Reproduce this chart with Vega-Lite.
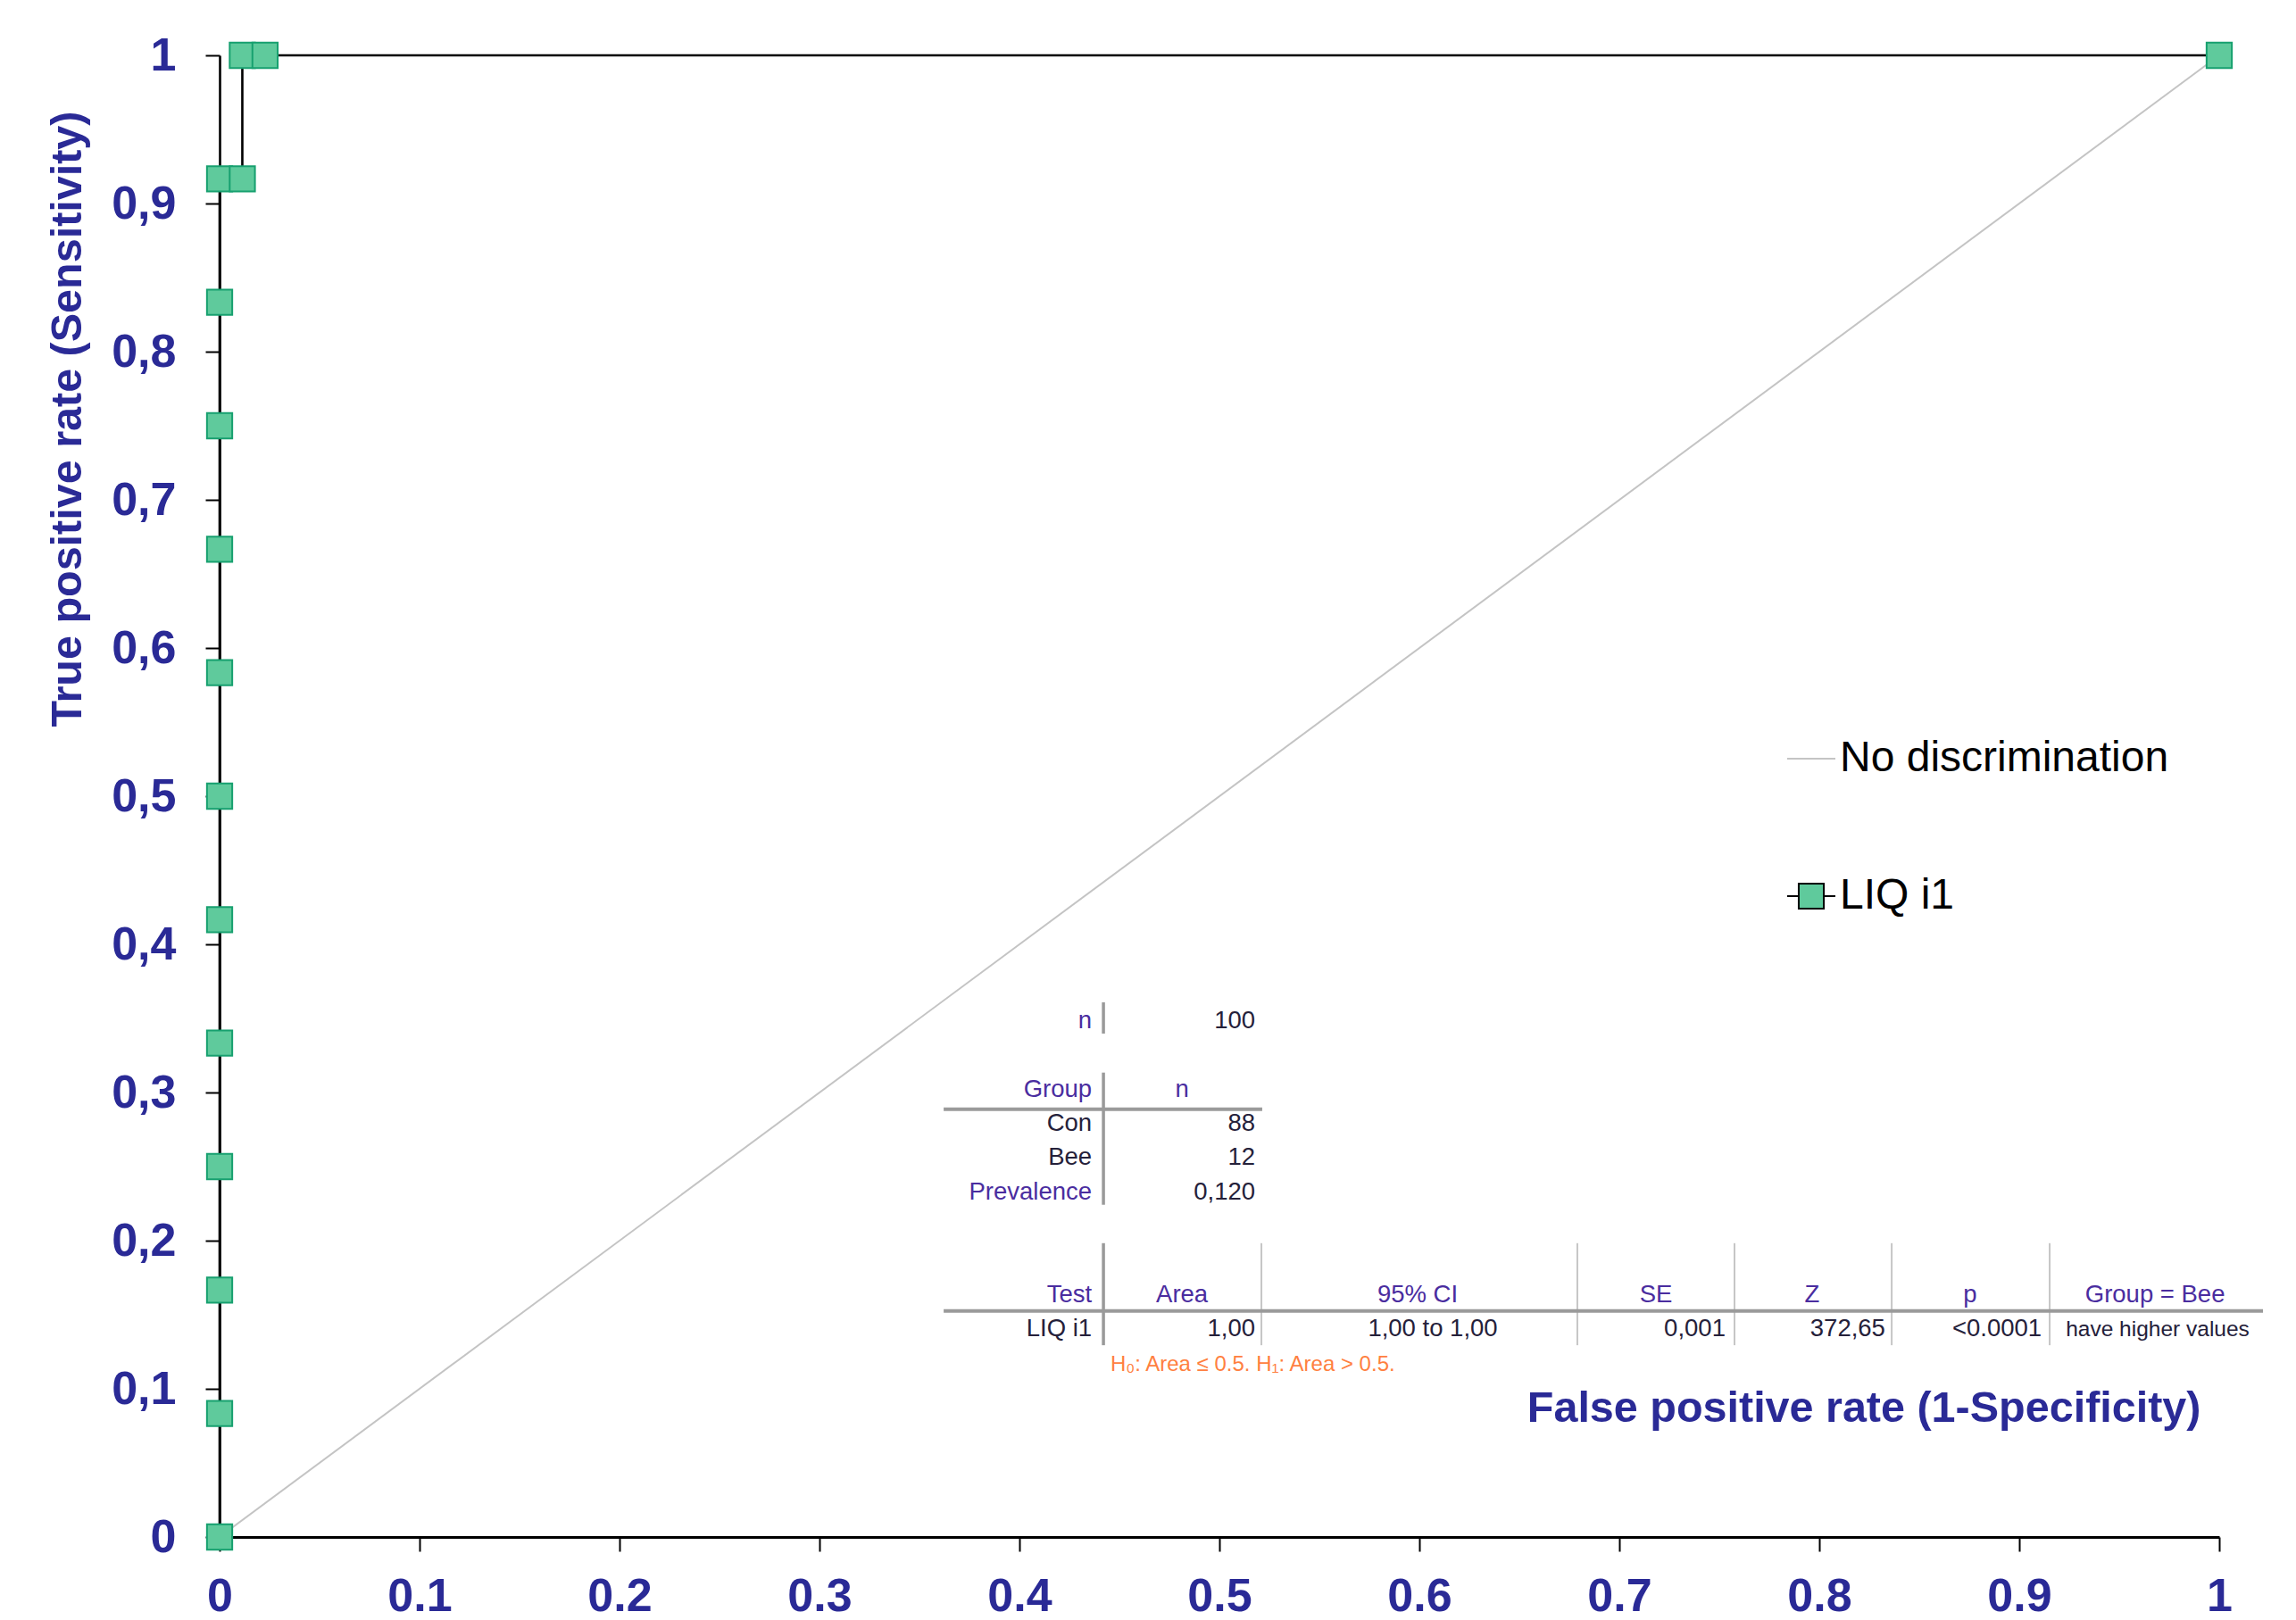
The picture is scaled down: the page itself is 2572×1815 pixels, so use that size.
{
  "$schema": "https://vega.github.io/schema/vega-lite/v6.json",
  "width": 2240,
  "height": 1660,
  "autosize": {"type": "none"},
  "padding": {"left": 246, "top": 62, "right": 86, "bottom": 93},
  "background": "white",
  "config": {"view": {"stroke": null}, "font": "Liberation Sans"},
  "datasets": {
    "roc": [
      {"series": "No discrimination", "fpr": 0, "tpr": 0},
      {"series": "No discrimination", "fpr": 1, "tpr": 1},
      {"series": "LIQ i1", "fpr": 0, "tpr": 0},
      {"series": "LIQ i1", "fpr": 0, "tpr": 0.0833333},
      {"series": "LIQ i1", "fpr": 0, "tpr": 0.1666667},
      {"series": "LIQ i1", "fpr": 0, "tpr": 0.25},
      {"series": "LIQ i1", "fpr": 0, "tpr": 0.3333333},
      {"series": "LIQ i1", "fpr": 0, "tpr": 0.4166667},
      {"series": "LIQ i1", "fpr": 0, "tpr": 0.5},
      {"series": "LIQ i1", "fpr": 0, "tpr": 0.5833333},
      {"series": "LIQ i1", "fpr": 0, "tpr": 0.6666667},
      {"series": "LIQ i1", "fpr": 0, "tpr": 0.75},
      {"series": "LIQ i1", "fpr": 0, "tpr": 0.8333333},
      {"series": "LIQ i1", "fpr": 0, "tpr": 0.9166667},
      {"series": "LIQ i1", "fpr": 0.0113636, "tpr": 0.9166667},
      {"series": "LIQ i1", "fpr": 0.0113636, "tpr": 1},
      {"series": "LIQ i1", "fpr": 0.0227273, "tpr": 1},
      {"series": "LIQ i1", "fpr": 1, "tpr": 1}
    ],
    "table": [
      {"row": "n", "col": "label", "text": "n"},
      {"row": "n", "col": "n", "text": "100"},
      {"row": "Group", "col": "label", "text": "Group"},
      {"row": "Group", "col": "n", "text": "n"},
      {"row": "Con", "col": "label", "text": "Con"},
      {"row": "Con", "col": "n", "text": "88"},
      {"row": "Bee", "col": "label", "text": "Bee"},
      {"row": "Bee", "col": "n", "text": "12"},
      {"row": "Prevalence", "col": "label", "text": "Prevalence"},
      {"row": "Prevalence", "col": "n", "text": "0,120"},
      {"row": "Test", "col": "label", "text": "Test"},
      {"row": "Test", "col": "Area", "text": "Area"},
      {"row": "Test", "col": "95% CI", "text": "95% CI"},
      {"row": "Test", "col": "SE", "text": "SE"},
      {"row": "Test", "col": "Z", "text": "Z"},
      {"row": "Test", "col": "p", "text": "p"},
      {"row": "Test", "col": "Group = Bee", "text": "Group = Bee"},
      {"row": "LIQ i1", "col": "label", "text": "LIQ i1"},
      {"row": "LIQ i1", "col": "Area", "text": "1,00"},
      {"row": "LIQ i1", "col": "95% CI", "text": "1,00 to 1,00"},
      {"row": "LIQ i1", "col": "SE", "text": "0,001"},
      {"row": "LIQ i1", "col": "Z", "text": "372,65"},
      {"row": "LIQ i1", "col": "p", "text": "<0.0001"},
      {"row": "LIQ i1", "col": "Group = Bee", "text": "have higher values"},
      {"row": "note", "col": "note", "text": "H₀: Area ≤ 0.5. H₁: Area > 0.5."}
    ]
  },
  "layer": [
    {
      "data": {"name": "roc"},
      "encoding": {
        "x": {
          "field": "fpr", "type": "quantitative",
          "scale": {"domain": [0, 1], "nice": false, "zero": false},
          "axis": {
            "values": [0, 0.1, 0.2, 0.3, 0.4, 0.5, 0.6, 0.7, 0.8, 0.9, 1],
            "labelExpr": "format(datum.value, '.1~f')",
            "grid": false,
            "domainColor": "#000000", "domainWidth": 3,
            "tickColor": "#000000", "tickWidth": 2, "tickSize": 16,
            "labelFont": "Liberation Sans", "labelFontWeight": "bold", "labelFontSize": 52,
            "labelColor": "#2a2a96", "labelPadding": 25, "labelFlush": false, "labelOverlap": false,
            "title": "False positive rate (1-Specificity)",
            "titleFont": "Liberation Sans", "titleFontWeight": "bold", "titleFontSize": 48.5,
            "titleColor": "#2a2a96", "titleAlign": "right", "titleBaseline": "alphabetic",
            "titleX": 2219, "titleY": -130
          }
        },
        "y": {
          "field": "tpr", "type": "quantitative",
          "scale": {"domain": [0, 1], "nice": false, "zero": false},
          "axis": {
            "values": [0, 0.1, 0.2, 0.3, 0.4, 0.5, 0.6, 0.7, 0.8, 0.9, 1],
            "labelExpr": "replace(format(datum.value, '.1~f'), '.', ',')",
            "grid": false,
            "domainColor": "#000000", "domainWidth": 2.6,
            "tickColor": "#000000", "tickWidth": 2, "tickSize": 16,
            "labelFont": "Liberation Sans", "labelFontWeight": "bold", "labelFontSize": 52,
            "labelColor": "#2a2a96", "labelPadding": 33, "labelFlush": false, "labelOverlap": false,
            "title": "True positive rate (Sensitivity)",
            "titleFont": "Liberation Sans", "titleFontWeight": "bold", "titleFontSize": 48.5,
            "titleColor": "#2a2a96", "titleAngle": -90, "titleAlign": "center", "titleBaseline": "alphabetic",
            "titleX": -156, "titleY": 407
          }
        }
      },
      "layer": [
        {
          "transform": [{"filter": "datum.series === 'No discrimination'"}],
          "mark": {"type": "line", "strokeWidth": 2},
          "encoding": {
            "color": {
              "field": "series", "type": "nominal",
              "scale": {"domain": ["No discrimination", "LIQ i1"], "range": ["#c4c4c4", "#000000"]},
              "legend": {
                "orient": "none", "legendX": 1755, "legendY": 760,
                "title": null, "padding": 0, "offset": 0,
                "symbolType": "stroke", "symbolSize": 2916, "symbolStrokeWidth": 2,
                "labelFont": "Liberation Sans", "labelFontSize": 48, "labelColor": "#000000",
                "labelOffset": 4, "labelLimit": 0, "rowPadding": 102,
                "encode": {
                  "symbols": {
                    "update": {
                      "shape": {"signal": "datum.value === 'LIQ i1' ? 'M-1,0H-0.52M0.52,0H1M-0.52,-0.52H0.52V0.52H-0.52Z' : 'stroke'"},
                      "fill": {"signal": "datum.value === 'LIQ i1' ? '#5fca9c' : 'transparent'"},
                      "fillOpacity": {"value": 1}
                    }
                  }
                }
              }
            },
            "order": {"value": null}
          }
        },
        {
          "transform": [{"filter": "datum.series === 'LIQ i1'"}],
          "mark": {"type": "line", "strokeWidth": 2.6},
          "encoding": {
            "color": {"field": "series", "type": "nominal"},
            "order": {"value": null}
          }
        },
        {
          "transform": [{"filter": "datum.series === 'LIQ i1'"}],
          "mark": {"type": "point", "shape": "square", "size": 800, "filled": true, "fill": "#5fca9c", "stroke": "#17a06f", "strokeWidth": 2, "opacity": 1}
        }
      ]
    },
    {
      "data": {"name": "table"},
      "encoding": {
        "y": {
          "field": "row", "type": "nominal",
          "scale": {"type": "point", "domain": ["n", "gap1", "Group", "Con", "Bee", "Prevalence", "gap2", "gap3", "Test", "LIQ i1", "note"], "range": [1090, 1473.5], "padding": 0},
          "axis": null
        }
      },
      "layer": [
        {
          "transform": [{"filter": "datum.col === 'label'"}],
          "mark": {"type": "text", "align": "right", "baseline": "alphabetic", "font": "Liberation Sans", "fontSize": 27.5},
          "encoding": {
            "x": {"datum": 0.4362, "type": "quantitative"},
            "text": {"field": "text"},
            "color": {"condition": {"test": "indexof(['n', 'Group', 'Prevalence', 'Test'], datum.row) >= 0", "value": "#4a2d9f"}, "value": "#25213a"}
          }
        },
        {
          "transform": [{"filter": "(datum.row === 'Group' || datum.row === 'Test') && (datum.col === 'n' || datum.col === 'Area')"}],
          "mark": {"type": "text", "align": "center", "baseline": "alphabetic", "font": "Liberation Sans", "fontSize": 27.5, "color": "#4a2d9f"},
          "encoding": {"x": {"datum": 0.4813, "type": "quantitative"}, "text": {"field": "text"}}
        },
        {
          "transform": [{"filter": "datum.row !== 'Group' && datum.row !== 'Test' && (datum.col === 'n' || datum.col === 'Area')"}],
          "mark": {"type": "text", "align": "right", "baseline": "alphabetic", "font": "Liberation Sans", "fontSize": 27.5, "color": "#25213a"},
          "encoding": {"x": {"datum": 0.5179, "type": "quantitative"}, "text": {"field": "text"}}
        },
        {
          "transform": [{"filter": "datum.row === 'Test' && datum.col === '95% CI'"}],
          "mark": {"type": "text", "align": "center", "baseline": "alphabetic", "font": "Liberation Sans", "fontSize": 27.5, "color": "#4a2d9f"},
          "encoding": {"x": {"datum": 0.5991, "type": "quantitative"}, "text": {"field": "text"}}
        },
        {
          "transform": [{"filter": "datum.row === 'LIQ i1' && datum.col === '95% CI'"}],
          "mark": {"type": "text", "align": "center", "baseline": "alphabetic", "font": "Liberation Sans", "fontSize": 27.5, "color": "#25213a"},
          "encoding": {"x": {"datum": 0.6067, "type": "quantitative"}, "text": {"field": "text"}}
        },
        {
          "transform": [{"filter": "datum.row === 'Test' && datum.col === 'SE'"}],
          "mark": {"type": "text", "align": "center", "baseline": "alphabetic", "font": "Liberation Sans", "fontSize": 27.5, "color": "#4a2d9f"},
          "encoding": {"x": {"datum": 0.7183, "type": "quantitative"}, "text": {"field": "text"}}
        },
        {
          "transform": [{"filter": "datum.row === 'LIQ i1' && datum.col === 'SE'"}],
          "mark": {"type": "text", "align": "right", "baseline": "alphabetic", "font": "Liberation Sans", "fontSize": 27.5, "color": "#25213a"},
          "encoding": {"x": {"datum": 0.7531, "type": "quantitative"}, "text": {"field": "text"}}
        },
        {
          "transform": [{"filter": "datum.row === 'Test' && datum.col === 'Z'"}],
          "mark": {"type": "text", "align": "center", "baseline": "alphabetic", "font": "Liberation Sans", "fontSize": 27.5, "color": "#4a2d9f"},
          "encoding": {"x": {"datum": 0.7964, "type": "quantitative"}, "text": {"field": "text"}}
        },
        {
          "transform": [{"filter": "datum.row === 'LIQ i1' && datum.col === 'Z'"}],
          "mark": {"type": "text", "align": "right", "baseline": "alphabetic", "font": "Liberation Sans", "fontSize": 27.5, "color": "#25213a"},
          "encoding": {"x": {"datum": 0.833, "type": "quantitative"}, "text": {"field": "text"}}
        },
        {
          "transform": [{"filter": "datum.row === 'Test' && datum.col === 'p'"}],
          "mark": {"type": "text", "align": "center", "baseline": "alphabetic", "font": "Liberation Sans", "fontSize": 27.5, "color": "#4a2d9f"},
          "encoding": {"x": {"datum": 0.8754, "type": "quantitative"}, "text": {"field": "text"}}
        },
        {
          "transform": [{"filter": "datum.row === 'LIQ i1' && datum.col === 'p'"}],
          "mark": {"type": "text", "align": "right", "baseline": "alphabetic", "font": "Liberation Sans", "fontSize": 27.5, "color": "#25213a"},
          "encoding": {"x": {"datum": 0.9112, "type": "quantitative"}, "text": {"field": "text"}}
        },
        {
          "transform": [{"filter": "datum.row === 'Test' && datum.col === 'Group = Bee'"}],
          "mark": {"type": "text", "align": "center", "baseline": "alphabetic", "font": "Liberation Sans", "fontSize": 27.5, "color": "#4a2d9f"},
          "encoding": {"x": {"datum": 0.9679, "type": "quantitative"}, "text": {"field": "text"}}
        },
        {
          "transform": [{"filter": "datum.row === 'LIQ i1' && datum.col === 'Group = Bee'"}],
          "mark": {"type": "text", "align": "center", "baseline": "alphabetic", "font": "Liberation Sans", "fontSize": 24.5, "color": "#25213a"},
          "encoding": {"x": {"datum": 0.9692, "type": "quantitative"}, "text": {"field": "text"}}
        },
        {
          "transform": [{"filter": "datum.col === 'note'"}],
          "mark": {"type": "text", "align": "left", "baseline": "alphabetic", "font": "Liberation Sans", "fontSize": 24, "color": "#ff8040"},
          "encoding": {"x": {"datum": 0.4455, "type": "quantitative"}, "text": {"field": "text"}}
        },
        {
          "data": {"values": [{}]},
          "mark": {"type": "rule", "color": "#9a9a9a", "strokeWidth": 3.5, "yOffset": -29, "y2Offset": 6},
          "encoding": {"x": {"datum": 0.442, "type": "quantitative"}, "y": {"datum": "n", "type": "nominal"}, "y2": {"datum": "n"}}
        },
        {
          "data": {"values": [{}]},
          "mark": {"type": "rule", "color": "#9a9a9a", "strokeWidth": 3.5, "yOffset": -27, "y2Offset": 6},
          "encoding": {"x": {"datum": 0.442, "type": "quantitative"}, "y": {"datum": "Group", "type": "nominal"}, "y2": {"datum": "Prevalence"}}
        },
        {
          "data": {"values": [{}]},
          "mark": {"type": "rule", "color": "#9a9a9a", "strokeWidth": 3.5, "yOffset": -66, "y2Offset": 10},
          "encoding": {"x": {"datum": 0.442, "type": "quantitative"}, "y": {"datum": "Test", "type": "nominal"}, "y2": {"datum": "LIQ i1"}}
        },
        {
          "data": {"values": [{}]},
          "mark": {"type": "rule", "color": "#c6c6c6", "strokeWidth": 2, "yOffset": -66, "y2Offset": 10},
          "encoding": {"x": {"datum": 0.521, "type": "quantitative"}, "y": {"datum": "Test", "type": "nominal"}, "y2": {"datum": "LIQ i1"}}
        },
        {
          "data": {"values": [{}]},
          "mark": {"type": "rule", "color": "#c6c6c6", "strokeWidth": 2, "yOffset": -66, "y2Offset": 10},
          "encoding": {"x": {"datum": 0.679, "type": "quantitative"}, "y": {"datum": "Test", "type": "nominal"}, "y2": {"datum": "LIQ i1"}}
        },
        {
          "data": {"values": [{}]},
          "mark": {"type": "rule", "color": "#c6c6c6", "strokeWidth": 2, "yOffset": -66, "y2Offset": 10},
          "encoding": {"x": {"datum": 0.7576, "type": "quantitative"}, "y": {"datum": "Test", "type": "nominal"}, "y2": {"datum": "LIQ i1"}}
        },
        {
          "data": {"values": [{}]},
          "mark": {"type": "rule", "color": "#c6c6c6", "strokeWidth": 2, "yOffset": -66, "y2Offset": 10},
          "encoding": {"x": {"datum": 0.8362, "type": "quantitative"}, "y": {"datum": "Test", "type": "nominal"}, "y2": {"datum": "LIQ i1"}}
        },
        {
          "data": {"values": [{}]},
          "mark": {"type": "rule", "color": "#c6c6c6", "strokeWidth": 2, "yOffset": -66, "y2Offset": 10},
          "encoding": {"x": {"datum": 0.9152, "type": "quantitative"}, "y": {"datum": "Test", "type": "nominal"}, "y2": {"datum": "LIQ i1"}}
        },
        {
          "data": {"values": [{}]},
          "mark": {"type": "rule", "color": "#9a9a9a", "strokeWidth": 4, "yOffset": 14},
          "encoding": {"x": {"datum": 0.3621, "type": "quantitative"}, "x2": {"datum": 0.5214}, "y": {"datum": "Group", "type": "nominal"}}
        },
        {
          "data": {"values": [{}]},
          "mark": {"type": "rule", "color": "#9a9a9a", "strokeWidth": 4, "yOffset": 10},
          "encoding": {"x": {"datum": 0.3621, "type": "quantitative"}, "x2": {"datum": 1.0219}, "y": {"datum": "Test", "type": "nominal"}}
        }
      ]
    }
  ],
  "resolve": {"scale": {"y": "independent"}}
}
